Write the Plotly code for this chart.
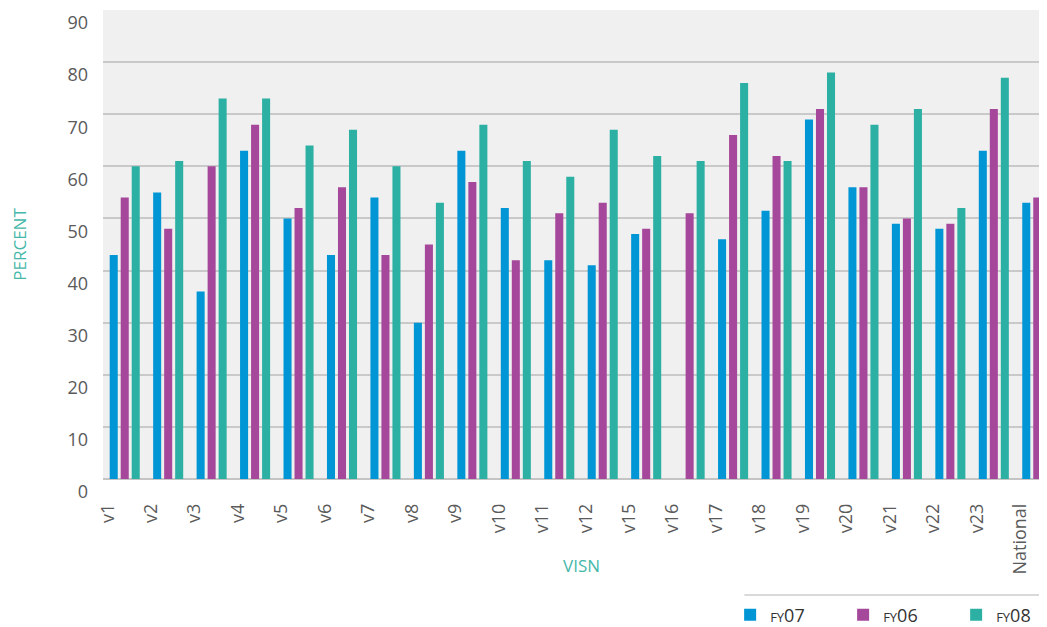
import plotly.graph_objects as go

categories = ["v1", "v2", "v3", "v4", "v5", "v6", "v7", "v8", "v9", "v10", "v11",
              "v12", "v15", "v16", "v17", "v18", "v19", "v20", "v21", "v22", "v23",
              "National"]
fy07 = [43, 55, 36, 63, 50, 43, 54, 30, 63, 52, 42, 41, 47, 0, 46, 51.5, 69, 56, 49, 48, 63, 53]
fy06 = [54, 48, 60, 68, 52, 56, 43, 45, 57, 42, 51, 53, 48, 51, 66, 62, 71, 56, 50, 49, 71, 54]
fy08 = [60, 61, 73, 73, 64, 67, 60, 53, 68, 61, 58, 67, 62, 61, 76, 61, 78, 68, 71, 52, 77, 66]

series_names = ["<span style='font-size:13px'>FY</span>07",
                "<span style='font-size:13px'>FY</span>06",
                "<span style='font-size:13px'>FY</span>08"]
series_values = [fy07, fy06, fy08]
series_colors = ["#0096D6", "#A5479A", "#2DB0A4"]

FONT = "Open Sans"
TEXT_GRAY = "#5A5A5A"
TEAL_TITLE = "#45B8A9"

fig = go.Figure()
for name, vals, col in zip(series_names, series_values, series_colors):
    fig.add_trace(go.Bar(x=categories, y=vals, name=name, marker_color=col,
                         marker_line_width=0))

fig.update_layout(
    width=1052, height=619,
    margin=dict(l=95, r=1, t=2, b=148, autoexpand=False),
    paper_bgcolor="white",
    plot_bgcolor="#EFF0EF",
    barmode="group",
    bargap=0.24,
    bargroupgap=0.27,
    font=dict(family=FONT, size=18, color=TEXT_GRAY),
    showlegend=True,
    legend=dict(orientation="h", x=0.656, xanchor="left", y=-0.29, yanchor="middle",
                font=dict(size=18, color="#333333"), entrywidth=68,
                bgcolor="rgba(0,0,0,0)"),
    shapes=[dict(type="line", xref="paper", yref="paper", x0=0.6709, x1=0.9817,
                 y0=-0.2473, y1=-0.2473, line=dict(color="#CCCCCC", width=1.5))],
    annotations=[dict(text="VISN", xref="paper", yref="paper", x=0.5, y=-0.1834,
                      xanchor="center", yanchor="middle", showarrow=False,
                      font=dict(family=FONT, size=17, color=TEAL_TITLE))],
)

fig.update_xaxes(
    type="category",
    tickangle=-90,
    ticklabelshift=-17,
    ticklabelstandoff=20,
    tickfont=dict(family=FONT, size=18, color=TEXT_GRAY),
    showgrid=False,
    showline=False,
)
fig.update_yaxes(
    range=[0, 90],
    dtick=10,
    showgrid=True,
    gridcolor="#C9C9C9",
    gridwidth=1.5,
    zeroline=True,
    zerolinecolor="#C4C4C4",
    zerolinewidth=2,
    ticklabelstandoff=14,
    ticklabelshift=13,
    tickfont=dict(family=FONT, size=18, color=TEXT_GRAY),
    title=dict(text="PERCENT", font=dict(family=FONT, size=17, color=TEAL_TITLE),
               standoff=40),
)

fig.write_html("out.html")
